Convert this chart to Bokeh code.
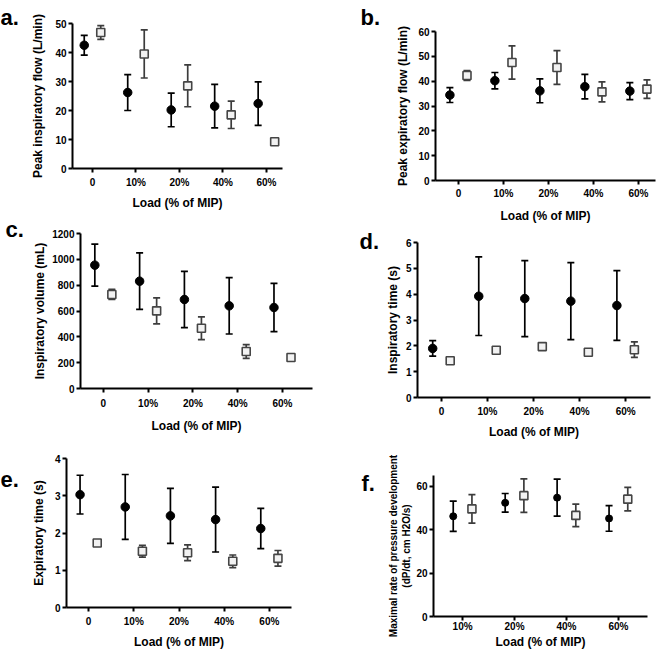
import numpy as np
from bokeh.plotting import figure
from bokeh.models import Range1d, FixedTicker, Whisker, TeeHead, ColumnDataSource, Label
from bokeh.layouts import row, column
from bokeh.embed import file_html
from bokeh.resources import INLINE

# ---------------- data ----------------
loads5 = ["0", "10%", "20%", "40%", "60%"]
loads4 = ["10%", "20%", "40%", "60%"]

# a. Peak inspiratory flow (L/min)
pif_closed_mean = [42.5, 26.2, 20.2, 21.5, 22.4]
pif_closed_err = [3.4, 6.2, 5.8, 7.5, 7.5]
pif_open_mean = [46.9, 39.5, 28.5, 18.5, 9.2]
pif_open_err = [2.4, 8.3, 7.2, 4.7, 1.0]

# b. Peak expiratory flow (L/min)
pef_closed_mean = [34.4, 40.2, 36.1, 37.8, 36.0]
pef_closed_err = [3.0, 3.3, 4.8, 4.9, 3.4]
pef_open_mean = [42.3, 47.5, 45.5, 35.7, 36.8]
pef_open_err = [2.0, 6.7, 6.8, 4.0, 3.7]

# c. Inspiratory volume (mL)
iv_closed_mean = [955, 831, 689, 640, 627]
iv_closed_err = [162, 219, 218, 218, 187]
iv_open_mean = [728, 601, 467, 286, 240]
iv_open_err = [39, 100, 88, 53, 25]

# d. Inspiratory time (s)
ti_closed_mean = [1.90, 3.92, 3.83, 3.73, 3.56]
ti_closed_err = [0.30, 1.52, 1.47, 1.49, 1.35]
ti_open_mean = [1.42, 1.83, 1.97, 1.75, 1.85]
ti_open_err = [0.04, 0.10, 0.12, 0.12, 0.30]

# e. Expiratory time (s)
te_closed_mean = [3.03, 2.70, 2.46, 2.36, 2.12]
te_closed_err = [0.52, 0.87, 0.74, 0.87, 0.54]
te_open_mean = [1.73, 1.51, 1.47, 1.24, 1.32]
te_open_err = [0.07, 0.16, 0.21, 0.17, 0.21]

# f. Maximal rate of pressure development (cm H2O/s)
dpdt_closed_mean = [46.2, 52.4, 54.8, 45.2]
dpdt_closed_err = [7.0, 4.3, 8.5, 5.9]
dpdt_open_mean = [49.6, 55.7, 46.6, 54.1]
dpdt_open_err = [6.6, 7.7, 5.2, 5.4]

FONT = "Liberation Sans"
XTITLE = "Load (% of MIP)"


def no_align(p):
    try:
        p.frame_align = False
    except Exception:
        pass


def letter_fig(letter, L):
    H = L["bt"] + L["fh"] + L["bb"]
    p = figure(frame_width=L["lw"], frame_height=H, x_range=Range1d(0, 1), y_range=Range1d(0, 1),
               output_backend="svg", toolbar_location=None, min_border=0,
               x_axis_location=None, y_axis_location=None)
    no_align(p)
    p.outline_line_color = None
    p.grid.visible = False
    p.add_layout(Label(x=L["lx"], y=H - L["ly"], x_units="screen", y_units="screen",
                       text=letter, text_font=FONT, text_font_style="bold",
                       text_font_size="22px", text_color="black",
                       text_baseline="alphabetic", text_align="left"))
    return p


def make_panel(cats, cm, ce, om, oe, ylabel, yticks, ymax, L):
    n = len(cats)
    idx = np.arange(n)
    p = figure(frame_width=L["fw"], frame_height=L["fh"],
               x_range=Range1d(L["x0"], L["x1"]), y_range=Range1d(0, ymax),
               output_backend="svg", toolbar_location=None,
               min_border_left=L["bl"], min_border_right=L["br"],
               min_border_top=L["bt"], min_border_bottom=L["bb"])
    no_align(p)
    p.outline_line_color = None
    p.grid.visible = False

    off = L.get("off", 0.19)
    src_c = ColumnDataSource(dict(x=idx - off, y=cm,
                                  lower=np.array(cm) - np.array(ce),
                                  upper=np.array(cm) + np.array(ce)))
    src_o = ColumnDataSource(dict(x=idx + off, y=om,
                                  lower=np.array(om) - np.array(oe),
                                  upper=np.array(om) + np.array(oe)))
    for src, col in ((src_c, "#000000"), (src_o, "#3c3c3c")):
        w = Whisker(source=src, base="x", upper="upper", lower="lower",
                    dimension="height", line_color=col, line_width=1.7,
                    upper_head=TeeHead(size=7, line_color=col, line_width=1.7),
                    lower_head=TeeHead(size=7, line_color=col, line_width=1.7))
        p.add_layout(w)
    p.scatter("x", "y", source=src_c, marker="circle", size=L.get("csize", 8.5),
              fill_color="#000000", line_color="#000000")
    p.scatter("x", "y", source=src_o, marker="square", size=8,
              fill_color="#f2f2f2", line_color="#454545", line_width=1.6)

    xa, ya = p.xaxis[0], p.yaxis[0]
    xa.ticker = FixedTicker(ticks=list(idx))
    xa.major_label_overrides = {int(i): c for i, c in enumerate(cats)}
    ya.ticker = FixedTicker(ticks=yticks)
    for ax in (xa, ya):
        ax.axis_line_width = 2
        ax.axis_line_color = "black"
        ax.major_tick_line_width = 2
        ax.major_tick_line_color = "black"
        ax.major_tick_out = 4
        ax.major_tick_in = 0
        ax.minor_tick_line_color = None
        ax.major_label_text_font = FONT
        ax.major_label_text_font_style = "bold"
        ax.major_label_text_font_size = "10px"
        ax.major_label_text_color = "black"
        ax.axis_label_text_font = FONT
        ax.axis_label_text_font_style = "bold"
        ax.axis_label_text_color = "black"
    xa.axis_label = XTITLE
    xa.axis_label_text_font_size = "12px"
    xa.major_label_standoff = L["xls"]
    xa.axis_label_standoff = L["xts"]
    ya.axis_label = ylabel
    ya.axis_label_text_font_size = L.get("yfs", "12px")
    ya.major_label_standoff = 2
    ya.axis_label_standoff = L["yts"]
    return p


def panel(cats, cm, ce, om, oe, ylabel, yticks, ymax, letter, L):
    return row(letter_fig(letter, L), make_panel(cats, cm, ce, om, oe, ylabel, yticks, ymax, L))


# layout constants: each column is 329 px wide = lw + bl + fw + br
La = dict(lw=28, bl=40, fw=210, br=51, bt=23, fh=145, bb=44, x0=-0.46, x1=4.37,
          xls=4, xts=5, yts=7, lx=0, ly=17)
Lc = dict(lw=28, bl=52, fw=232, br=17, bt=21, fh=155, bb=48, x0=-0.51, x1=4.67,
          xls=5, xts=7, yts=2, lx=5, ly=17)
Le = dict(lw=28, bl=32, fw=225, br=44, bt=22, fh=149, bb=44, x0=-0.49, x1=4.49,
          xls=4, xts=5, yts=6, lx=0, ly=43)
Lb = dict(lw=45, bl=55, fw=220, br=9, bt=31, fh=149, bb=45, x0=-0.51, x1=4.38,
          xls=3, xts=7, yts=5, lx=25, ly=17)
Ld = dict(lw=45, bl=37, fw=233, br=14, bt=17, fh=155, bb=44, x0=-0.52, x1=4.54,
          xls=4, xts=5, yts=3, lx=24, ly=16)
Lf = dict(lw=40, bl=58, fw=214, br=17, bt=34, fh=141, bb=35, x0=-0.56, x1=3.56,
          xls=0, xts=0, yts=1, yfs="10px", lx=26, ly=42, off=0.18, csize=7)

pa = panel(loads5, pif_closed_mean, pif_closed_err, pif_open_mean, pif_open_err,
           "Peak inspiratory flow (L/min)", [0, 10, 20, 30, 40, 50], 50, "a.", La)
pc = panel(loads5, iv_closed_mean, iv_closed_err, iv_open_mean, iv_open_err,
           "Inspiratory volume (mL)", [0, 200, 400, 600, 800, 1000, 1200], 1200, "c.", Lc)
pe = panel(loads5, te_closed_mean, te_closed_err, te_open_mean, te_open_err,
           "Expiratory time (s)", [0, 1, 2, 3, 4], 4, "e.", Le)
pb = panel(loads5, pef_closed_mean, pef_closed_err, pef_open_mean, pef_open_err,
           "Peak expiratory flow (L/min)", [0, 10, 20, 30, 40, 50, 60], 60, "b.", Lb)
pd_ = panel(loads5, ti_closed_mean, ti_closed_err, ti_open_mean, ti_open_err,
            "Inspiratory time (s)", [0, 1, 2, 3, 4, 5, 6], 6, "d.", Ld)
pf = panel(loads4, dpdt_closed_mean, dpdt_closed_err, dpdt_open_mean, dpdt_open_err,
           "Maximal rate of pressure development\n(dP/dt, cm H2O/s)", [0, 20, 40, 60], 65, "f.", Lf)

layout = row(column(pa, pc, pe), column(pb, pd_, pf))
open("out.html", "w").write(file_html(layout, INLINE))
